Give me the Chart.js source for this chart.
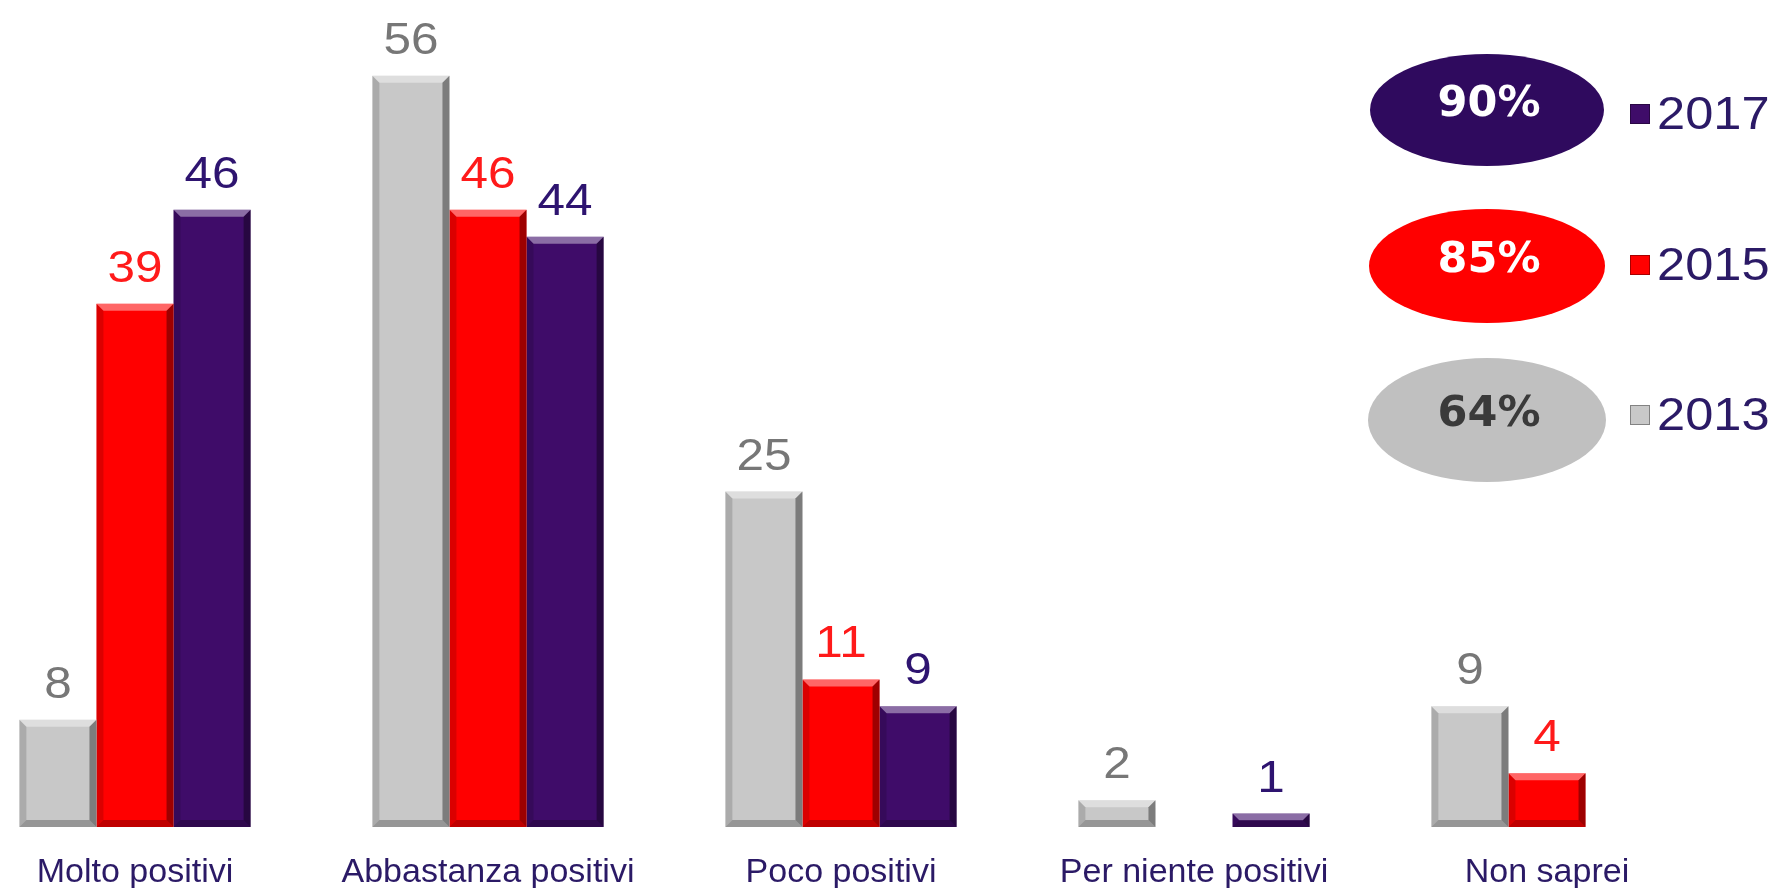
<!DOCTYPE html>
<html>
<head>
<meta charset="utf-8">
<script src="https://cdn.jsdelivr.net/npm/chart.js@4/dist/chart.umd.min.js"></script>
<style>
  body { margin: 0; background: #fff; }
  #wrap { width: 1777px; height: 888px; position: relative; }
</style>
</head>
<body>
<div id="wrap"><canvas id="barChart"></canvas></div>
<script>
let labels = ['Molto positivi', 'Abbastanza positivi', 'Poco positivi', 'Per niente positivi', 'Non saprei'];
let years = ['2013', '2015', '2017'];

let v2013 = [8, 56, 25, 2, 9];
let v2015 = [39, 46, 11, null, 4];
let v2017 = [46, 44, 9, 1, null];

// share of positive answers (molto + abbastanza) shown in the ovals
let positiveShare = ['64%', '85%', '90%'];

let barColors = ['#c8c8c8', '#ff0000', '#3f0c69'];
let valueColors = ['#777777', '#ff1a1a', '#2e1470'];
let ovalColors = ['#c0c0c0', '#ff0000', '#2f0a5e'];
let ovalText = ['#3a3a3a', '#ffffff', '#ffffff'];
let navy = '#2b1a66';
let arial = '"Liberation Sans", Arial, sans-serif';

// the source text is a bit wider than Arial, stretch it slightly
function wideText(c, txt, x, y, sx) {
    c.save();
    c.translate(x, y);
    c.scale(sx, 1);
    c.fillText(txt, 0, 0);
    c.restore();
}

// value on top of each bar + category names under the groups
const valueLabels = {
    id: 'valueLabels',
    afterDatasetsDraw(chart) {
        const c = chart.ctx;
        c.save();
        c.textAlign = 'center';
        c.textBaseline = 'alphabetic';
        c.font = '45px ' + arial;
        chart.data.datasets.forEach((ds, di) => {
            chart.getDatasetMeta(di).data.forEach((bar, i) => {
                if (ds.data[i] == null) return;
                c.fillStyle = valueColors[di];
                wideText(c, ds.data[i], bar.x, bar.y - 22, 1.1);
            });
        });
        const xs = chart.scales.x;
        c.font = '34px ' + arial;
        c.fillStyle = navy;
        labels.forEach((lab, i) => {
            c.fillText(lab, xs.getPixelForTick(i), chart.chartArea.bottom + 55);
        });
        c.restore();
    }
};

// simple bevel look on the bars
const bevel = {
    id: 'bevel',
    afterDatasetDraw(chart, args) {
        const c = chart.ctx;
        args.meta.data.forEach((bar, i) => {
            if (chart.data.datasets[args.index].data[i] == null) return;
            let l = bar.x - bar.width / 2, r = bar.x + bar.width / 2;
            let t = bar.y, b = bar.base;
            let e = Math.min(7, (b - t) / 2);
            c.save();
            c.fillStyle = 'rgba(255,255,255,0.4)';
            c.beginPath(); c.moveTo(l, t); c.lineTo(r, t); c.lineTo(r - e, t + e); c.lineTo(l + e, t + e); c.closePath(); c.fill();
            c.fillStyle = 'rgba(0,0,0,0.38)';
            c.beginPath(); c.moveTo(r, t); c.lineTo(r, b); c.lineTo(r - e, b - e); c.lineTo(r - e, t + e); c.closePath(); c.fill();
            c.fillStyle = 'rgba(0,0,0,0.14)';
            c.beginPath(); c.moveTo(l, t); c.lineTo(l + e, t + e); c.lineTo(l + e, b - e); c.lineTo(l, b); c.closePath(); c.fill();
            c.fillStyle = 'rgba(0,0,0,0.25)';
            c.beginPath(); c.moveTo(l, b); c.lineTo(r, b); c.lineTo(r - e, b - e); c.lineTo(l + e, b - e); c.closePath(); c.fill();
            c.restore();
        });
    }
};

// ovals with percentages + year legend on the right
const ovalLegend = {
    id: 'ovalLegend',
    afterDraw(chart) {
        const c = chart.ctx;
        const ovalY = [420, 266, 110];
        const ovalR = [[119, 62], [118, 57], [117, 56]];
        const keyY = [415, 265, 114];
        years.forEach((yr, k) => {
            c.save();
            c.fillStyle = ovalColors[k];
            c.beginPath();
            c.ellipse(1487, ovalY[k], ovalR[k][0], ovalR[k][1], 0, 0, Math.PI * 2);
            c.fill();
            c.font = 'bold 43px "DejaVu Sans", Verdana, sans-serif';
            c.fillStyle = ovalText[k];
            c.textAlign = 'center';
            c.textBaseline = 'middle';
            c.fillText(positiveShare[k], 1489, ovalY[k] - 5);
            c.fillStyle = barColors[k];
            c.fillRect(1630, keyY[k] - 10, 20, 20);
            c.strokeStyle = 'rgba(0,0,0,0.35)';
            c.lineWidth = 1;
            c.strokeRect(1630.5, keyY[k] - 9.5, 19, 19);
            c.font = '46px ' + arial;
            c.fillStyle = navy;
            c.textAlign = 'left';
            wideText(c, yr, 1657, keyY[k] + 2, 1.1);
            c.restore();
        });
    }
};

let barctx = document.getElementById('barChart').getContext('2d');

let barChart = new Chart(barctx, {
    type: 'bar',
    data: {
        labels: labels,
        datasets: [{
            label: years[0],
            data: v2013,
            backgroundColor: barColors[0]
        }, {
            label: years[1],
            data: v2015,
            backgroundColor: barColors[1]
        }, {
            label: years[2],
            data: v2017,
            backgroundColor: barColors[2]
        }]
    },
    options: {
        responsive: true,
        maintainAspectRatio: false,
        animation: false,
        clip: false,
        categoryPercentage: 0.655,
        barPercentage: 1.0,
        layout: {
            padding: { left: 135, right: 230, top: 22, bottom: 61 }
        },
        plugins: {
            legend: { display: false },
            tooltip: { enabled: false }
        },
        scales: {
            x: {
                offset: false,
                grid: { display: false, drawTicks: false },
                border: { display: false },
                ticks: { display: false }
            },
            y: {
                display: false,
                min: 0,
                max: 60
            }
        }
    },
    plugins: [bevel, valueLabels, ovalLegend]
});
</script>
</body>
</html>
